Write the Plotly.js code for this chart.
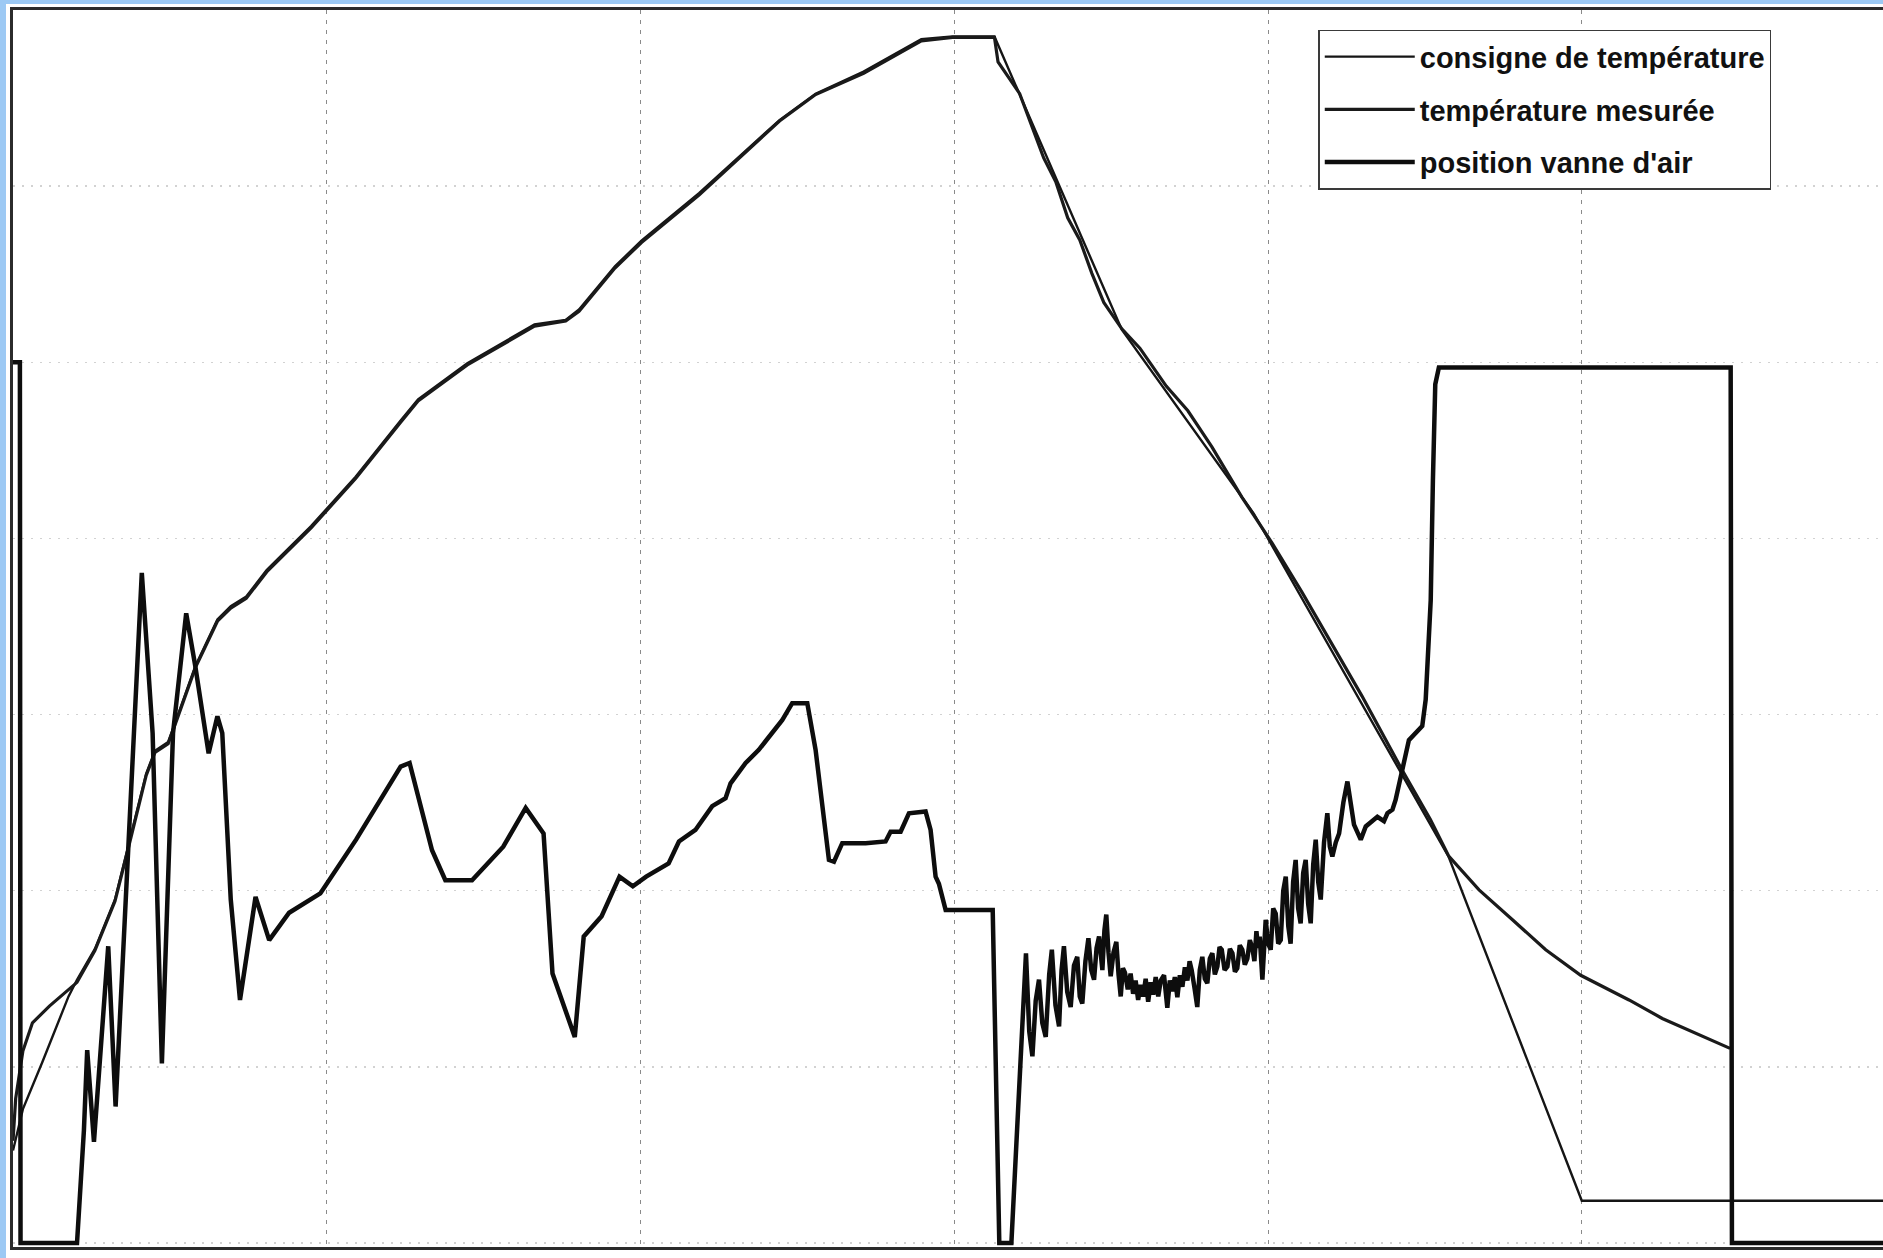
<!DOCTYPE html>
<html>
<head>
<meta charset="utf-8">
<script src="https://cdn.plot.ly/plotly-3.0.1.min.js"></script>
<style>
  html, body { margin: 0; padding: 0; background: #9cc9f4; width: 1883px; height: 1258px; overflow: hidden; }
  #chart { position: absolute; left: 6px; top: 4px; width: 1877px; height: 1254px; background: #fff; }
</style>
</head>
<body>
<div id="chart"></div>
<script>
// Time in hours (grid every 2 h), temperature in °C (grid every 200 °C), air valve in %.
const consigneTemps = [0, 0.063, 0.186, 0.270, 0.354, 0.408, 0.522, 0.650, 0.729, 0.849, 0.905, 0.989, 1.048, 1.162, 1.303, 1.388, 1.487, 1.617, 1.900, 2.184, 2.471, 2.582, 2.896, 3.324, 3.523, 3.608, 3.837, 4.006, 4.373, 4.886, 5.116, 5.422, 5.790, 5.989, 6.256, 7.068, 7.910, 9.150, 10.000, 11.92];
const consigneValeurs = [105, 152, 205, 242, 280, 299, 334, 390, 446, 533, 559, 569, 598, 655, 708, 723, 734, 764, 814, 870, 934, 958, 999, 1043, 1048, 1060, 1109, 1138, 1192, 1275, 1305, 1330, 1367, 1370, 1370, 1037, 828, 439, 48, 48];

const mesureTemps = [0, 0.017, 0.063, 0.124, 0.232, 0.331, 0.408, 0.522, 0.650, 0.729, 0.849, 0.905, 0.989, 1.048, 1.162, 1.303, 1.388, 1.487, 1.617, 1.900, 2.184, 2.471, 2.582, 2.896, 3.324, 3.523, 3.608, 3.837, 4.006, 4.373, 4.886, 5.116, 5.422, 5.790, 5.989, 6.256, 6.279, 6.417, 6.501, 6.570, 6.647, 6.723, 6.800, 6.877, 6.953, 7.068, 7.183, 7.351, 7.489, 7.642, 7.833, 8.025, 8.216, 8.408, 8.599, 8.852, 9.035, 9.153, 9.345, 9.558, 9.770, 9.993, 10.301, 10.513, 10.740, 10.945];
const mesureValeurs = [116, 164, 218, 250, 269, 284, 296, 332, 388, 444, 531, 557, 567, 596, 653, 706, 721, 732, 762, 812, 868, 932, 956, 997, 1041, 1047, 1058, 1107, 1136, 1190, 1274, 1304, 1328, 1365, 1369, 1369, 1341, 1305, 1265, 1232, 1205, 1164, 1139, 1101, 1068, 1038, 1016, 973, 945, 904, 847, 795, 739, 679, 621, 538, 481, 439, 401, 367, 333, 304, 276, 255, 237, 221];

const vanneTemps = [0, 0.044, 0.048, 0.408, 0.452, 0.473, 0.516, 0.607, 0.654, 0.821, 0.890, 0.949, 1.020, 1.104, 1.162, 1.247, 1.303, 1.334, 1.388, 1.447, 1.546, 1.633, 1.760, 1.900, 1.959, 2.187, 2.471, 2.528, 2.671, 2.756, 2.926, 3.125, 3.268, 3.382, 3.439, 3.581, 3.638, 3.752, 3.866, 3.951, 4.036, 4.179, 4.245, 4.350, 4.457, 4.542, 4.574, 4.670, 4.754, 4.904, 4.967, 5.063, 5.116, 5.201, 5.233, 5.286, 5.435, 5.562, 5.594, 5.658, 5.711, 5.817, 5.849, 5.881, 5.902, 5.945, 6.245, 6.287, 6.364,
  6.457, 6.478, 6.498, 6.519, 6.540, 6.561, 6.583, 6.605, 6.622, 6.645, 6.668, 6.684, 6.699, 6.720, 6.742, 6.763, 6.784, 6.800, 6.816, 6.836, 6.855, 6.873, 6.891, 6.907, 6.923, 6.934, 6.944, 6.957, 6.969, 6.983, 6.997, 7.015, 7.033, 7.047, 7.061, 7.075, 7.088, 7.106, 7.124, 7.140, 7.156, 7.172, 7.188, 7.204, 7.220, 7.236, 7.252, 7.268, 7.284, 7.300, 7.316, 7.337, 7.358, 7.374, 7.390, 7.406, 7.422, 7.438, 7.454, 7.470, 7.486, 7.500, 7.513, 7.531, 7.549, 7.565, 7.581, 7.597, 7.613, 7.629, 7.645, 7.661, 7.677, 7.691, 7.705, 7.723, 7.741, 7.757, 7.773, 7.789, 7.804, 7.820, 7.836, 7.852, 7.868, 7.884, 7.900, 7.913, 7.926, 7.937, 7.947, 7.964, 7.985, 8.001, 8.017, 8.033, 8.049, 8.065, 8.081, 8.097, 8.113, 8.129, 8.144, 8.160, 8.176, 8.192, 8.208, 8.224, 8.240, 8.256, 8.272, 8.288, 8.304, 8.320, 8.336, 8.357, 8.378, 8.394, 8.410, 8.432, 8.453, 8.480, 8.506, 8.548, 8.591, 8.623, 8.665, 8.697, 8.739, 8.761, 8.793,
  8.813, 8.898, 8.983, 9.005, 9.026, 9.037, 9.051, 9.066, 9.089, 10.949, 10.957, 11.92];
const vanneValeurs = [100, 100, 0, 0, 12.8, 21.9, 11.5, 33.7, 15.5, 76.1, 57.9, 20.4, 57.9, 71.5, 65.5, 55.6, 59.8, 57.9, 39.0, 27.6, 39.3, 34.4, 37.5, 39.0, 39.7, 45.8, 54.1, 54.5, 44.6, 41.2, 41.2, 45.0, 49.4, 46.5, 30.6, 23.4, 34.8, 37.1, 41.6, 40.5, 41.6, 43.1, 45.6, 46.9, 49.6, 50.5, 52.2, 54.5, 56.0, 59.4, 61.3, 61.3, 56.0, 43.5, 43.3, 45.4, 45.4, 45.6, 46.7, 46.7, 48.8, 49.0, 46.9, 41.6, 40.8, 37.8, 37.8, 0, 0,
  32.9, 24.0, 21.2, 27.5, 29.9, 25.0, 23.4, 30.5, 33.3, 27.0, 24.6, 31.0, 33.7, 28.5, 26.8, 31.5, 32.5, 28.0, 27.2, 32.0, 34.6, 31.0, 29.9, 33.5, 34.8, 31.8, 31.0, 35.5, 37.3, 33.0, 30.3, 33.0, 34.2, 30.5, 28.0, 31.2, 30.7, 28.8, 30.6, 28.3, 29.8, 27.6, 29.3, 28.0, 30.0, 27.4, 29.6, 28.2, 30.2, 28.0, 29.8, 30.4, 26.7, 29.8, 28.6, 30.2, 27.9, 30.4, 29.1, 31.3, 29.8, 32.0, 31.0, 29.0, 26.8, 31.0, 32.5, 30.0, 29.5, 32.3, 32.9, 30.5, 31.4, 33.6, 33.3, 31.0, 31.4, 33.4, 32.9, 30.8, 31.2, 33.8, 33.3, 31.6, 32.3, 34.4, 33.5, 32.0, 35.4, 33.5, 34.8, 29.9, 36.7, 34.0, 33.3, 38.0, 37.4, 34.0, 34.4, 40.0, 41.6, 36.0, 34.0, 41.0, 43.5, 38.0, 36.3, 42.0, 43.5, 38.5, 36.3, 43.0, 45.8, 41.0, 39.0, 45.5, 48.8, 45.0, 43.9, 45.5, 46.5, 50.0, 52.4, 47.5, 45.8, 47.3, 47.9, 48.4, 47.9, 48.8, 49.2,
  50.3, 57.1, 58.7, 61.7, 69.3, 73.0, 86.6, 97.5, 99.4, 99.4, 0, 0];

const nomsSeries = ["consigne de température", "température mesurée", "position vanne d'air"];

const traces = [
  { x: consigneTemps, y: consigneValeurs, name: nomsSeries[0], type: 'scatter', mode: 'lines',
    line: { color: '#151515', width: 2.4 }, legendgroup: 'a', yaxis: 'y' },
  { x: mesureTemps, y: mesureValeurs, name: nomsSeries[1], type: 'scatter', mode: 'lines',
    line: { color: '#1a1a1a', width: 3.2 }, legendgroup: 'b', yaxis: 'y' },
  { x: vanneTemps, y: vanneValeurs, name: nomsSeries[2], type: 'scatter', mode: 'lines',
    line: { color: '#0d0d0d', width: 4.5 }, legendgroup: 'c', yaxis: 'y2' }
];

const layout = {
  width: 1877, height: 1254,
  margin: { l: 7, r: 0, t: 6, b: 11, pad: 0 },
  paper_bgcolor: '#ffffff', plot_bgcolor: '#ffffff',
  showlegend: true,
  hovermode: false,
  xaxis: {
    range: [0, 11.92], tick0: 0, dtick: 2, showticklabels: false, ticks: '',
    showgrid: true, gridcolor: '#8a8a8a', gridwidth: 1, griddash: '4px,6px',
    zeroline: false, showline: true, linecolor: '#2b2b2b', linewidth: 3, mirror: true
  },
  yaxis: {
    range: [-4.5, 1400], tick0: 0, dtick: 200, showticklabels: false, ticks: '',
    showgrid: true, gridcolor: '#d2d2d2', gridwidth: 1.5, griddash: '2px,7px',
    zeroline: false, showline: true, linecolor: '#2b2b2b', linewidth: 3, mirror: false
  },
  yaxis2: {
    overlaying: 'y', range: [-0.45, 140], showgrid: false, showticklabels: false,
    ticks: '', zeroline: false, showline: false
  },
  legend: {
    x: 0.698, y: 0.984, xanchor: 'left', yanchor: 'top',
    bgcolor: '#ffffff', bordercolor: '#3a3a3a', borderwidth: 1.5,
    font: { family: 'Liberation Sans, Arial, sans-serif', size: 29, color: '#111111', weight: 'bold' },
    itemwidth: 90, tracegroupgap: 12, traceorder: 'grouped'
  }
};

Plotly.newPlot('chart', traces, layout, { displayModeBar: false, staticPlot: true });
</script>
</body>
</html>
